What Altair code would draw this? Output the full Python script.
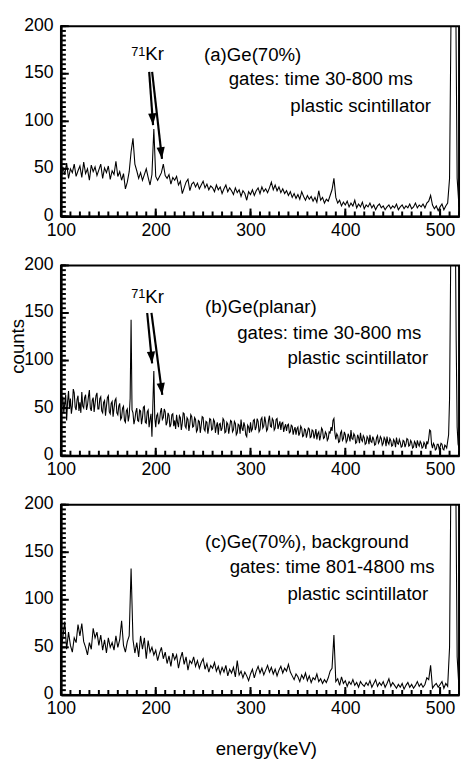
import math
import altair as alt
import pandas as pd

# ---------------- data ----------------
energy = list(range(100, 521, 2))      # panels (a) and (c): 2 keV bins
energy_b = list(range(100, 521, 1))    # panel (b): 1 keV bins

counts_a = [
    38, 52, 44, 56, 40, 50, 46, 55, 42, 48,
    53, 41, 57, 45, 50, 38, 54, 47, 52, 43,
    49, 55, 40, 51, 46, 53, 39, 48, 44, 58,
    42, 47, 38, 45, 29, 36, 47, 68, 82, 55,
    48, 40, 46, 38, 44, 50, 41, 33, 44, 92,
    42, 38, 42, 46, 55, 43, 40, 44, 34, 41,
    38, 42, 33, 37, 24, 30, 36, 39, 27, 34,
    36, 31, 35, 29, 33, 37, 30, 34, 28, 32,
    30, 26, 33, 28, 31, 24, 29, 33, 26, 30,
    27, 23, 30, 25, 28, 21, 27, 24, 17, 26,
    23, 28, 22, 27, 30, 24, 31, 26, 29, 25,
    30, 36, 28, 33, 27, 31, 25, 29, 24, 27,
    22, 26, 20, 24, 19, 23, 18, 26, 21, 17,
    22, 18, 21, 16, 20, 15, 27, 17, 20, 14,
    18, 16, 22, 28, 40, 20, 14, 17, 11, 15,
    12, 16, 10, 14, 11, 17, 9, 13, 10, 15,
    8, 12, 10, 14, 9, 12, 7, 11, 13, 9,
    11, 7, 10, 12, 8, 11, 9, 13, 7, 10,
    12, 8, 11, 9, 13, 8, 10, 14, 9, 12,
    10, 13, 9, 14, 16, 22, 12, 8, 11, 6,
    10, 13, 7, 11, 14, 40, 260, 400, 300, 40,
    10,
]

counts_b = [
    28, 58, 62, 45, 55, 64, 37, 57, 68, 49, 60, 44, 52, 70, 66, 51, 48, 59, 63, 47,
    56, 45, 67, 52, 50, 61, 64, 48, 53, 62, 69, 50, 47, 58, 61, 46, 55, 63, 66, 49,
    49, 60, 62, 47, 45, 56, 58, 42, 52, 61, 63, 46, 44, 55, 57, 41, 50, 58, 60, 45,
    43, 52, 55, 38, 40, 50, 52, 37, 35, 47, 49, 36, 42, 60, 143, 48, 45, 33, 38, 46,
    50, 37, 36, 48, 47, 33, 40, 51, 52, 35, 34, 46, 48, 30, 38, 44, 20, 55, 89, 40,
    30, 42, 44, 33, 36, 46, 50, 38, 40, 49, 46, 32, 35, 45, 42, 30, 33, 43, 44, 31,
    37, 28, 43, 35, 30, 42, 40, 27, 34, 45, 44, 31, 29, 40, 38, 26, 33, 43, 41, 30,
    31, 40, 38, 25, 27, 37, 36, 24, 32, 41, 40, 28, 26, 36, 35, 23, 30, 39, 38, 27,
    28, 38, 36, 24, 31, 35, 22, 33, 34, 26, 29, 39, 37, 24, 25, 35, 33, 23, 30, 37,
    36, 25, 27, 36, 34, 22, 24, 33, 32, 23, 38, 29, 26, 35, 31, 22, 20, 32, 30, 24,
    35, 26, 28, 37, 38, 27, 30, 39, 36, 25, 27, 38, 40, 29, 31, 41, 35, 26, 28, 37,
    42, 31, 30, 39, 37, 27, 29, 38, 39, 28, 32, 36, 27, 34, 35, 25, 30, 33, 26, 32,
    33, 24, 25, 32, 31, 22, 27, 30, 22, 28, 30, 21, 24, 31, 29, 20, 21, 28, 27, 19,
    24, 29, 28, 19, 20, 27, 26, 18, 22, 28, 17, 23, 25, 16, 21, 29, 27, 18, 19, 25,
    23, 16, 18, 25, 24, 30, 26, 37, 39, 24, 17, 23, 21, 14, 15, 24, 26, 16, 18, 25,
    22, 14, 16, 23, 20, 15, 27, 18, 17, 23, 21, 13, 14, 22, 19, 13, 24, 17, 15, 21,
    19, 12, 13, 20, 18, 12, 22, 15, 14, 20, 17, 11, 12, 19, 21, 13, 15, 20, 18, 11,
    13, 19, 17, 10, 20, 14, 12, 18, 16, 10, 11, 17, 15, 9, 19, 13, 12, 17, 14, 9,
    10, 16, 15, 9, 12, 18, 17, 10, 11, 16, 14, 8, 9, 15, 13, 8, 16, 12, 10, 15,
    13, 8, 9, 14, 12, 7, 15, 12, 18, 27, 26, 12, 8, 13, 11, 6, 7, 12, 12, 7,
    9, 13, 12, 7, 6, 11, 10, 8, 15, 22, 60, 180, 300, 400, 400, 400, 250, 120, 30, 12,
    8,
]

counts_c = [
    50, 60, 77, 48, 66, 52, 45, 60, 55, 74,
    62, 75, 56, 50, 42, 55, 48, 70, 60, 66,
    52, 63, 47, 58, 44, 60, 50, 55, 47, 62,
    50, 58, 78, 52, 45, 56, 62, 133, 58, 44,
    55, 40, 62, 48, 60, 38, 57, 45, 50, 42,
    47, 36, 44, 50, 38, 45, 33, 41, 30, 44,
    37, 42, 28, 38, 45, 32, 40, 26, 36, 33,
    40, 30, 36, 28, 34, 38, 27, 33, 24, 31,
    28, 34, 25, 30, 22, 29, 24, 31, 20, 27,
    23, 29, 19, 36, 21, 25, 18, 24, 20, 15,
    22, 27, 18, 25, 30, 23, 28, 21, 26, 31,
    24, 29, 22, 27, 20, 26, 30, 23, 28, 25,
    32, 24, 20, 16, 22, 19, 14, 21, 17, 23,
    15, 20, 13, 18, 16, 22, 14, 17, 12, 16,
    13, 18, 25, 28, 63, 14, 17, 10, 19, 12,
    15, 9, 14, 11, 16, 10, 13, 8, 14, 11,
    9, 13, 10, 15, 8, 12, 16, 9, 13, 10,
    14, 8, 12, 17, 9, 13, 10, 7, 11, 8,
    12, 6, 10, 13, 8, 11, 7, 10, 14, 9,
    12, 8, 11, 18, 16, 31, 7, 10, 12, 8,
    11, 14, 7, 12, 9, 50, 300, 400, 300, 40,
    6,
]

x_tick_labels = [100, 200, 300, 400, 500]
y_tick_labels = [0, 50, 100, 150, 200]
x_minor = list(range(100, 521, 10))
y_minor = list(range(0, 201, 5))

panel_texts = [
    ["(a)Ge(70%)", "gates: time 30-800 ms", "plastic scintillator"],
    ["(b)Ge(planar)", "gates: time 30-800 ms", "plastic scintillator"],
    ["(c)Ge(70%), background", "gates: time 801-4800 ms", "plastic scintillator"],
]
text_x = [[251, 277, 342], [252, 286, 339], [252, 278, 339]]
text_y = [[163, 138, 110], [150, 123, 96], [154, 128, 100]]

# 71Kr arrows (start energy, start counts, tip energy, tip counts)
arrows = [
    [(193.1, 152, 197.2, 96), (196.2, 152, 206.6, 60.5)],
    [(191.0, 150, 196.2, 97), (195.5, 150, 206.9, 64)],
    [],
]
kr_pos = [(189, 164, 169), (189, 161, 166), None]

# ---------------- layout ----------------
W = 406
H = 194
FONT = "Liberation Sans"
XDOM = [100, 520]
YDOM = [0, 200]

head_path = "M-0.35,-1L0.35,-1L0,0Z"


def panel(idx, xvals, counts, sw):
    is_mid = idx == 1
    is_bot = idx == 2
    xs = alt.Scale(domain=XDOM, nice=False, zero=False)
    ys = alt.Scale(domain=YDOM, nice=False, zero=True)
    xax_kwargs = dict(
        values=x_tick_labels, ticks=False, tickSize=0, grid=False,
        labelFontSize=18, labelFont=FONT, labelColor="black", labelPadding=5,
        domainColor="black", domainWidth=2.5, labelFlush=False,
    )
    if is_bot:
        xax = alt.Axis(title="energy(keV)", titleFont=FONT, titleFontSize=19,
                       titleFontWeight="normal", titleColor="black",
                       titleX=209, titleY=46, titleBaseline="top",
                       titleAlign="center", **xax_kwargs)
    else:
        xax = alt.Axis(title=None, **xax_kwargs)
    yax_kwargs = dict(
        values=y_tick_labels, ticks=False, tickSize=0, grid=False,
        labelFontSize=18, labelFont=FONT, labelColor="black", labelPadding=8,
        labelOffset=-1, domainColor="black", domainWidth=2.5,
    )
    if is_mid:
        yax = alt.Axis(title="counts", titleFont=FONT, titleFontSize=19,
                       titleFontWeight="normal", titleColor="black",
                       titleAngle=270, titleX=-53, titleY=82,
                       titleBaseline="top", titleAlign="center", **yax_kwargs)
    else:
        yax = alt.Axis(title=None, **yax_kwargs)

    xe = alt.X("energy:Q", scale=xs, axis=xax)
    ye = alt.Y("counts:Q", scale=ys, axis=yax)

    df = pd.DataFrame({"energy": xvals, "counts": counts})
    line = alt.Chart(df).mark_line(color="black", strokeWidth=sw, clip=True).encode(x=xe, y=ye)

    layers = [line]

    # inward ticks
    xt = pd.DataFrame({"energy": x_minor})
    ticks_x = alt.Chart(xt).mark_rule(color="black", strokeWidth=2).encode(
        x=xe, y=alt.value(H), y2=alt.value(H - 5))
    xt_major = pd.DataFrame({"energy": x_tick_labels})
    ticks_x2 = alt.Chart(xt_major).mark_rule(color="black", strokeWidth=2).encode(
        x=xe, y=alt.value(H), y2=alt.value(H - 8))
    yt = pd.DataFrame({"counts": y_minor})
    ticks_y = alt.Chart(yt).mark_rule(color="black", strokeWidth=2).encode(
        y=ye, x=alt.value(0), x2=alt.value(5))
    yt_major = pd.DataFrame({"counts": y_tick_labels})
    ticks_y2 = alt.Chart(yt_major).mark_rule(color="black", strokeWidth=2).encode(
        y=ye, x=alt.value(0), x2=alt.value(8))
    layers += [ticks_x, ticks_x2, ticks_y, ticks_y2]

    # annotation texts
    tdf = pd.DataFrame({"energy": text_x[idx], "counts": text_y[idx], "label": panel_texts[idx]})
    txt = alt.Chart(tdf).mark_text(align="left", baseline="alphabetic", font=FONT,
                                   fontSize=19, color="black").encode(x=xe, y=ye, text="label:N")
    layers.append(txt)

    if arrows[idx]:
        rows = []
        for (x0, y0, x1, y1) in arrows[idx]:
            dx = (x1 - x0) * W / (XDOM[1] - XDOM[0])
            dy = -(y1 - y0) * H / (YDOM[1] - YDOM[0])
            ang = math.degrees(math.atan2(-dx, dy)) % 360
            rows.append({"energy": x0, "counts": y0, "energy2": x1, "counts2": y1, "ang": ang})
        adf = pd.DataFrame(rows)
        arr = alt.Chart(adf).mark_rule(color="black", strokeWidth=2.2).encode(
            x=xe, y=ye, x2="energy2:Q", y2="counts2:Q")
        hdf = adf[["energy2", "counts2", "ang"]].rename(columns={"energy2": "energy", "counts2": "counts"})
        heads = alt.Chart(hdf).mark_point(shape=head_path, size=576, filled=True,
                                          color="black", opacity=1, strokeWidth=0).encode(
            x=xe, y=ye, angle=alt.Angle("ang:Q", scale=None))
        kx, ky_kr, ky_71 = kr_pos[idx]
        kdf = pd.DataFrame({"energy": [kx], "counts": [ky_kr], "label": ["Kr"]})
        kr = alt.Chart(kdf).mark_text(align="left", baseline="alphabetic", font=FONT,
                                      fontSize=19, color="black").encode(x=xe, y=ye, text="label:N")
        sdf = pd.DataFrame({"energy": [kx], "counts": [ky_71], "label": ["71"]})
        sup = alt.Chart(sdf).mark_text(align="right", baseline="alphabetic", font=FONT,
                                       fontSize=13, color="black").encode(x=xe, y=ye, text="label:N")
        layers += [arr, heads, kr, sup]

    return alt.layer(*layers).properties(width=W, height=H)


p1 = panel(0, energy, counts_a, 1.1)
p2 = panel(1, energy_b, counts_b, 1.1)
p3 = panel(2, energy, counts_c, 1.1)

chart = alt.vconcat(p1, p2, p3, spacing=50, bounds="flush").properties(
    padding={"left": 0, "right": 0, "top": 0, "bottom": 0},
    background="white",
).configure_view(stroke="black", strokeWidth=2)

chart.save("out.html", embed_options={"renderer": "svg", "actions": False})
